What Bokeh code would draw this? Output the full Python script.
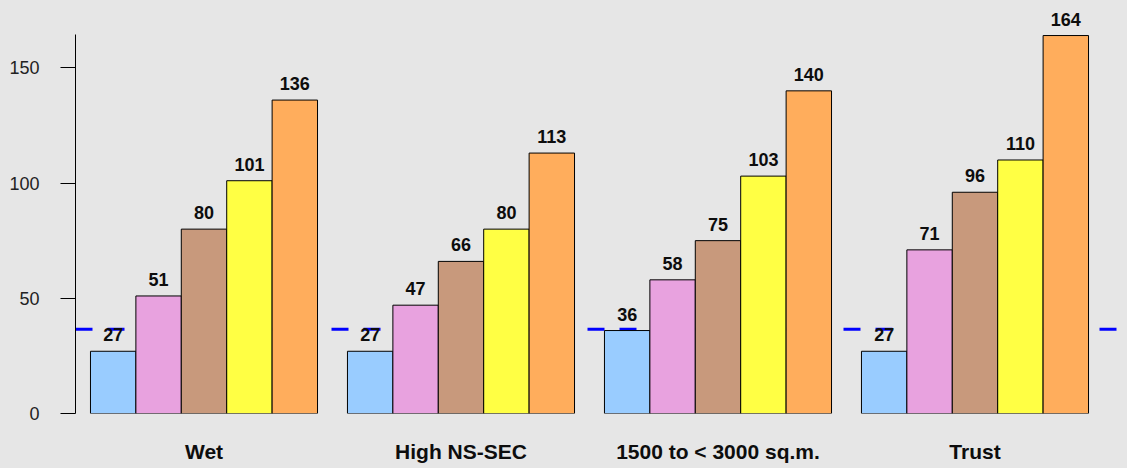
from bokeh.plotting import figure
from bokeh.models import ColumnDataSource, Range1d, FixedTicker, Span, LabelSet
from bokeh.transform import dodge
from bokeh.core.properties import value
from bokeh.embed import file_html
from bokeh.resources import INLINE

categories = ["Wet", "High NS-SEC", "1500 to < 3000 sq.m.", "Trust"]
series_1 = [27, 27, 36, 27]
series_2 = [51, 47, 58, 71]
series_3 = [80, 66, 75, 96]
series_4 = [101, 80, 103, 110]
series_5 = [136, 113, 140, 164]
reference_level = 36.6
y_ticks = [0, 50, 100, 150]

series = [series_1, series_2, series_3, series_4, series_5]
colors = ["#99ccff", "#e8a2df", "#c8997c", "#ffff44", "#ffad5c"]
BG = "#e6e6e6"
FONT = "Liberation Sans"

group_pos = [i + 0.5 for i in range(len(categories))]
bar_w = 0.1767

p = figure(width=1127, height=468, output_backend="svg", toolbar_location=None,
           x_range=Range1d(0, 4.0623), y_range=Range1d(0, 179.2),
           min_border_left=75, min_border_right=8, min_border_top=0, min_border_bottom=55)
p.background_fill_color = BG
p.border_fill_color = BG
p.outline_line_color = None
p.xgrid.visible = False
p.ygrid.visible = False

span = Span(location=reference_level, dimension="width", line_color="#0000ff",
            line_width=3, line_dash="17 15", level="underlay")
p.add_layout(span)

for i, vals in enumerate(series):
    src = ColumnDataSource(dict(x=group_pos, top=vals, lab=[str(v) for v in vals]))
    off = (i - 2) * bar_w
    p.vbar(x=dodge("x", off), top="top", bottom=0, width=bar_w, source=src,
           fill_color=colors[i], line_color="black", line_width=1)
    labels = LabelSet(x=dodge("x", off), y="top", text="lab", source=src,
                      text_align="center", text_baseline="alphabetic", y_offset=10,
                      text_font=value(FONT), text_font_size=value("18px"),
                      text_font_style="bold", text_color="#0d0d0d")
    p.add_layout(labels)

p.yaxis.bounds = (0, 164.4)
p.yaxis.ticker = FixedTicker(ticks=y_ticks)
p.yaxis.major_tick_out = 15
p.yaxis.major_tick_in = 0
p.yaxis.minor_tick_line_color = None
p.yaxis.axis_line_color = "black"
p.yaxis.major_tick_line_color = "black"
p.yaxis.major_label_text_font = FONT
p.yaxis.major_label_text_font_size = "18px"
p.yaxis.major_label_text_color = "#222222"
p.yaxis.major_label_standoff = 21

p.xaxis.ticker = FixedTicker(ticks=group_pos)
p.xaxis.major_label_overrides = {g: c for g, c in zip(group_pos, categories)}
p.xaxis.axis_line_color = None
p.xaxis.major_tick_line_color = None
p.xaxis.minor_tick_line_color = None
p.xaxis.major_tick_out = 0
p.xaxis.major_tick_in = 0
p.xaxis.major_label_standoff = 26
p.xaxis.major_label_text_font = FONT
p.xaxis.major_label_text_font_size = "21px"
p.xaxis.major_label_text_font_style = "bold"
p.xaxis.major_label_text_color = "#0d0d0d"

html = file_html(p, INLINE)
html = html.replace("</head>", "<style>html,body{background-color:#e6e6e6;}</style></head>", 1)
open("out.html", "w").write(html)
